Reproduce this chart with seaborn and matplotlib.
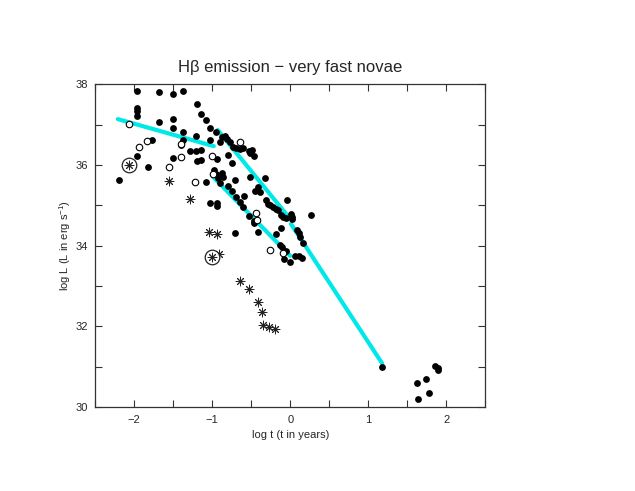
import matplotlib
matplotlib.use("Agg")
import matplotlib.pyplot as plt
import seaborn as sns
import pandas as pd
from matplotlib.ticker import MultipleLocator

# filled circles
filled_x = [-1.97, -1.68, -1.50, -1.38, -1.97, -1.97, -1.97,
            -1.20, -1.14, -1.08, -1.03, -0.95, -1.68, -1.50, -1.50, -1.38,
            -1.77, -1.38, -1.40, -1.21, -1.03, -1.28, -1.21, -1.14, -1.50, -1.20, -1.14,
            -1.97, -1.82, -2.19, -1.08, -1.03, -0.94, -0.94, -0.71,
            -0.90, -0.87, -0.84, -0.81, -0.77, -0.73, -0.69, -0.64, -0.60, -0.53, -0.51, -0.49, -0.47,
            -0.94, -0.80, -0.75, -0.98, -0.95, -0.92, -0.87, -0.86, -0.90,
            -0.80, -0.75, -0.71, -0.69, -0.64, -0.59, -0.60, -0.52,
            -0.53, -0.47, -0.46, -0.41, -0.45, -0.41, -0.39, -0.32,
            -0.31, -0.29, -0.26, -0.22, -0.18, -0.16, -0.04,
            -0.12, -0.09, -0.06, 0.01, 0.02, 0.02, 0.27,
            -0.12, -0.18, 0.09, 0.11, 0.13, 0.17,
            -0.13, -0.10, -0.06, -0.08, 0.00, 0.06, 0.11, 0.15,
            1.18, 1.62, 1.74, 1.78, 1.64, 1.86, 1.89, 1.90]
filled_y = [37.85, 37.82, 37.76, 37.84, 37.42, 37.33, 37.22,
            37.51, 37.26, 37.11, 36.91, 36.81, 37.06, 37.14, 36.91, 36.83,
            36.62, 36.62, 36.50, 36.72, 36.62, 36.35, 36.35, 36.37, 36.17, 36.10, 36.13,
            36.23, 35.96, 35.63, 35.57, 35.06, 35.05, 34.99, 34.32,
            36.58, 36.69, 36.72, 36.64, 36.58, 36.46, 36.42, 36.39, 36.42, 36.36, 36.31, 36.37, 36.23,
            36.16, 36.25, 36.06, 35.88, 35.78, 35.67, 35.81, 35.70, 35.56,
            35.48, 35.37, 35.63, 35.22, 35.09, 35.24, 34.95, 35.71,
            34.74, 34.56, 34.62, 34.35, 35.37, 35.45, 35.34, 35.69,
            35.13, 35.03, 35.00, 34.97, 34.90, 34.89, 35.13,
            34.76, 34.72, 34.70, 34.79, 34.72, 34.66, 34.76,
            34.45, 34.28, 34.39, 34.32, 34.22, 34.06,
            34.02, 33.96, 33.88, 33.67, 33.60, 33.75, 33.74, 33.69,
            31.00, 30.60, 30.69, 30.36, 30.20, 31.02, 30.97, 30.91]

# open circles
open_x = [-2.07, -1.94, -1.83, -1.40, -1.40, -1.55, -1.22, -1.00, -0.99, -0.65, -0.44, -0.43, -0.26, -0.09]
open_y = [37.01, 36.44, 36.61, 36.52, 36.19, 35.95, 35.59, 36.23, 35.77, 36.57, 34.80, 34.64, 33.89, 33.81]

# asterisks
star_x = [-1.55, -1.28, -1.04, -0.94, -0.91, -0.64, -0.53, -0.41, -0.36, -0.35, -0.27, -0.20]
star_y = [35.61, 35.16, 34.33, 34.30, 33.79, 33.12, 32.93, 32.61, 32.36, 32.03, 31.99, 31.93]

# circled asterisks
cstar_x = [-2.07, -1.00]
cstar_y = [36.00, 33.73]

# fitted segments
fit_seg = [1, 1, 2, 2, 3, 3, 4, 4]
fit_x = [-2.21, -0.98, -0.93, -0.04, 0.01, 1.18, -0.99, 0.00]
fit_y = [37.14, 36.47, 36.87, 34.76, 34.54, 31.08, 35.71, 33.75]

sns.set_style("ticks")
plt.rcParams['font.family'] = ['Liberation Sans', 'DejaVu Sans']
plt.rcParams['mathtext.fontset'] = 'custom'
plt.rcParams['mathtext.rm'] = 'Liberation Sans'
plt.rcParams['mathtext.it'] = 'Liberation Sans:italic'

fig = plt.figure(figsize=(6.35, 4.91), dpi=100)
ax = fig.add_axes([0.150, 0.171, 0.614, 0.657])

fits = pd.DataFrame({'x': fit_x, 'y': fit_y, 'seg': fit_seg})
for s, d in fits.groupby('seg'):
    sns.lineplot(data=d, x='x', y='y', ax=ax, color='#00e8e8', linewidth=3,
                 sort=False, estimator=None, zorder=1)

sns.scatterplot(x=filled_x, y=filled_y, ax=ax, color='black', s=24,
                linewidth=0, zorder=3)
sns.scatterplot(x=open_x, y=open_y, ax=ax, facecolor='white', edgecolor='black',
                s=22, linewidth=0.8, zorder=3)
sns.scatterplot(x=star_x, y=star_y, ax=ax, marker=(8, 2, 0), color='#222222',
                s=40, linewidth=0.7, zorder=3)
sns.scatterplot(x=cstar_x, y=cstar_y, ax=ax, facecolor='white', edgecolor='#222222',
                s=110, linewidth=0.9, zorder=3)
sns.scatterplot(x=cstar_x, y=cstar_y, ax=ax, marker=(8, 2, 0), color='#222222',
                s=40, linewidth=0.7, zorder=4)

ax.set_xlim(-2.5, 2.5)
ax.set_ylim(30, 38)
ax.xaxis.set_major_locator(MultipleLocator(1))
ax.xaxis.set_minor_locator(MultipleLocator(0.5))
ax.yaxis.set_major_locator(MultipleLocator(2))
ax.yaxis.set_minor_locator(MultipleLocator(1))
ax.tick_params(which='both', direction='in', top=True, right=True,
               length=5, width=0.8, color='#333333', labelsize=8, pad=5)
ax.tick_params(axis='x', pad=6)
for sp in ax.spines.values():
    sp.set_linewidth(0.9)
    sp.set_color('#333333')

ax.set_xlabel('log t (t in years)', fontsize=8, labelpad=3)
ax.set_ylabel('log L (L in erg s$^{-1}$)', fontsize=8, labelpad=2)
ax.set_title('H\u03b2 emission \u2212 very fast novae', fontsize=12, pad=9)

fig.savefig('out.png', dpi=100)
